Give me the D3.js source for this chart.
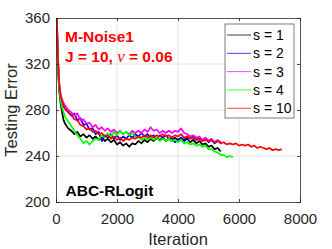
<!DOCTYPE html>
<html><head><meta charset="utf-8">
<script src="https://cdn.jsdelivr.net/npm/d3@7"></script>
<style>
html,body{margin:0;padding:0;background:#fff;}
svg{display:block;font-family:"Liberation Sans",Arial,Helvetica,sans-serif;}
</style></head>
<body>
<svg id="chart" width="332" height="249"></svg>
<script>
const xTicks = [0, 2000, 4000, 6000, 8000];
const yTicks = [200, 240, 280, 320, 360];
const seriesNames = ["s = 1", "s = 2", "s = 3", "s = 4", "s = 10"];
const seriesColors = ["#000000", "#0000ff", "#ff00ff", "#00ff00", "#ff0000"];
const iterations = [0, 30, 60, 100, 150, 200, 250, 300, 400,
  500, 600, 700, 800, 900, 1000, 1100, 1200, 1300, 1400,
  1500, 1600, 1700, 1800, 1900, 2000, 2100, 2200, 2300, 2400,
  2500, 2600, 2700, 2800, 2900, 3000, 3100, 3200, 3300, 3400,
  3500, 3600, 3700, 3800, 3900, 4000, 4100, 4200, 4300, 4400,
  4500, 4600, 4700, 4800, 4900, 5000, 5100, 5200, 5300, 5400,
  5500, 5600, 5700, 5800, 5900, 6000, 6100, 6200, 6300, 6400,
  6500, 6600, 6700, 6800, 6900, 7000, 7100, 7200, 7300, 7400];
const errS1 = [390, 352, 320, 298, 286, 278, 271, 268, 264,
  262, 259, 261, 257, 259, 256, 258, 255, 257, 254,
  256, 253, 255, 252, 254, 250, 252, 249, 251, 248,
  251, 250, 253, 251, 254, 252, 255, 253, 256, 254,
  256, 253, 255, 253, 256, 254, 256, 253, 255, 252,
  254, 251, 253, 250, 251, 248, 249, 246, 247, 244];
const errS2 = [395, 358, 327, 302, 292, 286, 283, 281, 278,
  275, 277, 271, 273, 267, 268, 263, 264, 259, 261,
  253, 258, 256, 259, 255, 258, 254, 257, 255, 258,
  256, 259, 257, 260, 257, 259, 256, 258, 255, 258,
  256, 258, 255, 256, 252, 254, 256, 254, 257, 255,
  257, 254, 256, 253, 255, 252, 254, 251, 253, 252];
const errS3 = [395, 360, 330, 305, 294, 289, 286, 284, 280,
  278, 275, 277, 271, 272, 268, 269, 265, 267, 263,
  265, 262, 264, 261, 263, 260, 262, 259, 261, 259,
  262, 260, 262, 260, 263, 261, 265, 262, 263, 260,
  262, 260, 262, 260, 262, 261, 264, 260, 259, 257,
  258, 256, 257, 254, 256, 253, 255, 252, 254, 252];
const errS4 = [392, 354, 322, 300, 289, 282, 278, 274, 270,
  266, 262, 258, 255, 251, 253, 250, 253, 255, 254,
  258, 256, 260, 257, 261, 258, 262, 259, 261, 258,
  260, 257, 256, 254, 256, 254, 256, 254, 256, 253,
  255, 253, 255, 253, 254, 252, 254, 251, 252, 250,
  251, 249, 250, 248, 249, 246, 246, 244, 243, 241,
  241, 239, 240, 239];
const errS10 = [396, 359, 328, 304, 293, 288, 284, 281, 278,
  276, 272, 271, 267, 266, 263, 264, 261, 262, 259,
  260, 257, 258, 255, 257, 254, 256, 253, 255, 254,
  256, 255, 257, 256, 258, 256, 258, 256, 258, 257,
  259, 257, 258, 256, 258, 257, 259, 256, 257, 255,
  256, 254, 255, 253, 254, 253, 254, 252, 253, 251,
  252, 250, 251, 250, 251, 249, 250, 249, 250, 248,
  249, 247, 248, 247, 246, 247, 245, 246, 245, 246];
const allSeries = [errS1, errS2, errS3, errS4, errS10];

const svg = d3.select("#chart");
const L = 56, R = 300, T = 18, B = 202;
const x = d3.scaleLinear().domain([0, 8000]).range([L, R]);
const y = d3.scaleLinear().domain([200, 360]).range([B, T]);
const axisColor = "#262626";

// grid
const grid = svg.append("g");
grid.selectAll(".gx").data(xTicks.slice(1, -1)).enter().append("line")
  .attr("x1", d => x(d)).attr("x2", d => x(d)).attr("y1", T).attr("y2", B)
  .attr("stroke", "#e4e4e4").attr("stroke-width", 1);
grid.selectAll(".gy").data(yTicks.slice(1, -1)).enter().append("line")
  .attr("x1", L).attr("x2", R).attr("y1", d => y(d)).attr("y2", d => y(d))
  .attr("stroke", "#e4e4e4").attr("stroke-width", 1);

// clip
svg.append("defs").append("clipPath").attr("id", "clip")
  .append("rect").attr("x", L).attr("y", T).attr("width", R - L).attr("height", B - T);

const line = d3.line().x((d, i) => x(iterations[i])).y(d => y(d));
const plot = svg.append("g").attr("clip-path", "url(#clip)");
allSeries.forEach((s, k) => {
  plot.append("path").datum(s).attr("d", line)
    .attr("fill", "none").attr("stroke", seriesColors[k])
    .attr("stroke-width", 1.7).attr("stroke-linejoin", "round");
});

// axes
const fontTick = "15px";
const xAxis = d3.axisBottom(x).tickValues(xTicks).tickFormat(d3.format("d")).tickSize(-3).tickPadding(11);
const gx = svg.append("g").attr("transform", `translate(0,${B})`).call(xAxis);
const yAxis = d3.axisLeft(y).tickValues(yTicks).tickFormat(d3.format("d")).tickSize(-3).tickPadding(6);
const gy = svg.append("g").attr("transform", `translate(${L},0)`).call(yAxis);
const gxt = svg.append("g").attr("transform", `translate(0,${T})`).call(d3.axisTop(x).tickValues(xTicks).tickFormat("").tickSize(-3));
const gyr = svg.append("g").attr("transform", `translate(${R},0)`).call(d3.axisRight(y).tickValues(yTicks).tickFormat("").tickSize(-3));
[gx, gy, gxt, gyr].forEach(g => {
  g.select(".domain").attr("stroke", axisColor).attr("stroke-width", 0.8);
  g.selectAll(".tick line").attr("stroke", axisColor).attr("stroke-width", 0.8);
  g.selectAll("text").attr("fill", axisColor).attr("font-size", fontTick)
    .attr("font-family", "Liberation Sans, Arial, sans-serif");
});

// axis labels
svg.append("text").attr("x", (L + R) / 2).attr("y", 245).attr("text-anchor", "middle")
  .attr("font-size", "16.5px").attr("fill", axisColor).text("Iteration");
svg.append("text").attr("transform", `translate(17,${(T + B) / 2}) rotate(-90)`)
  .attr("text-anchor", "middle").attr("font-size", "16.5px").attr("fill", axisColor).text("Testing Error");

// annotations
svg.append("text").attr("x", 65).attr("y", 41.7).attr("font-size", "15.5px")
  .attr("font-weight", "bold").attr("fill", "#ff0000").text("M-Noise1");
const t2 = svg.append("text").attr("x", 65).attr("y", 61.5).attr("font-size", "15.5px")
  .attr("font-weight", "bold").attr("fill", "#ff0000");
t2.append("tspan").text("J = 10, ");
t2.append("tspan").attr("font-family", "Liberation Serif, DejaVu Serif, serif")
  .attr("font-style", "italic").attr("font-weight", "normal").attr("font-size", "17px").text("ν");
t2.append("tspan").text(" = 0.06");
svg.append("text").attr("x", 65.5).attr("y", 196).attr("font-size", "15.5px")
  .attr("font-weight", "bold").attr("fill", "#000").text("ABC-RLogit");

// legend
const lg = svg.append("g");
lg.append("rect").attr("x", 225).attr("y", 24).attr("width", 69).attr("height", 94)
  .attr("fill", "#fff").attr("stroke", axisColor).attr("stroke-width", 0.6);
const rowY = d3.scalePoint().domain(seriesNames).range([35, 108.3]);
seriesNames.forEach((n, k) => {
  lg.append("line").attr("x1", 227).attr("x2", 251).attr("y1", rowY(n)).attr("y2", rowY(n))
    .attr("stroke", seriesColors[k]).attr("stroke-width", 1).attr("stroke-opacity", 0.75);
  lg.append("text").attr("x", 253).attr("y", rowY(n) + 5).attr("font-size", "14px")
    .attr("fill", "#000").text(n);
});
</script>
</body></html>
